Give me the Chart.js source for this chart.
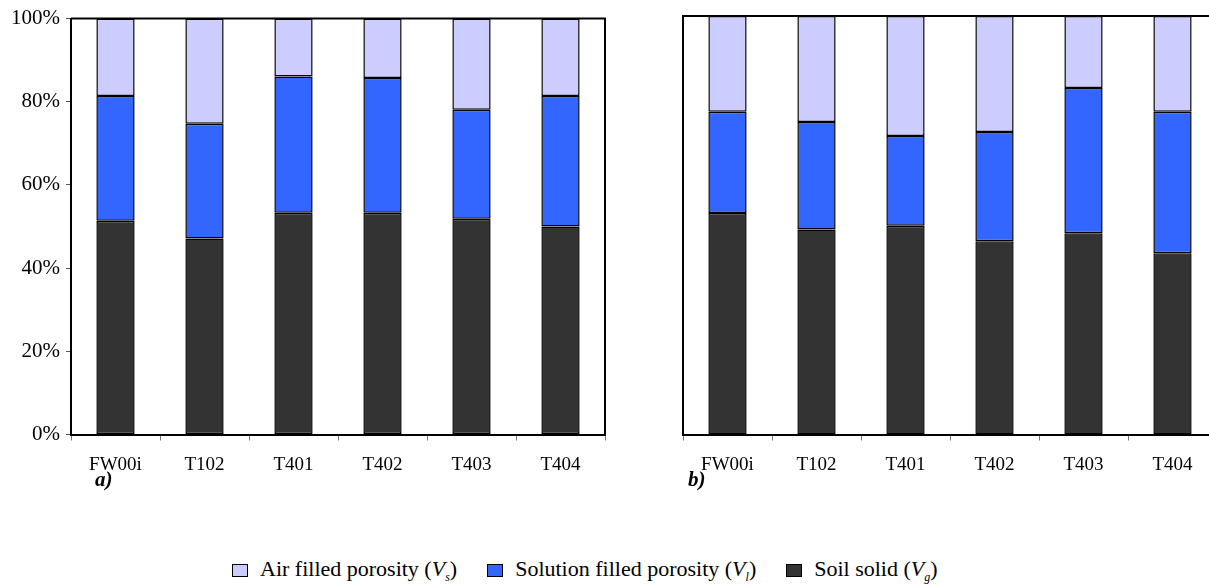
<!DOCTYPE html>
<html>
<head>
<meta charset="utf-8">
<script src="https://cdn.jsdelivr.net/npm/chart.js@4"></script>
<style>
  html, body { margin: 0; padding: 0; background: #fff; width: 1209px; height: 585px; overflow: hidden; }
  body { position: relative; font-family: 'Liberation Serif', 'Times New Roman', serif; color: #000; }
  .panel { position: absolute; top: 0; }
  .tag { position: absolute; top: 467px; font-size: 21px; font-weight: bold; font-style: italic; }
  #legend { position: absolute; left: 232px; top: 556px; display: flex; align-items: center; font-size: 22px; white-space: nowrap; }
  #legend .item { display: flex; align-items: center; margin-right: 30px; }
  #legend .box { width: 14px; height: 11px; border: 1px solid #000; margin-right: 12px; }
  #legend sub { font-size: 12px; font-style: italic; }
</style>
</head>
<body>
<div class="panel" style="left:0px; width:620px; height:480px;"><canvas id="chartA"></canvas></div>
<div class="panel" style="left:620px; width:620px; height:480px;"><canvas id="chartB"></canvas></div>
<div class="tag" style="left:95px;">a)</div>
<div class="tag" style="left:688px;">b)</div>
<div id="legend"></div>
<script>
// Sample names and tick labels
const categories = ['FW00i', 'T102', 'T401', 'T402', 'T403', 'T404'];
const yTicks = [0, 20, 40, 60, 80, 100];

// Panel a) volume fractions (%)
const soilA     = [51.4, 47.1, 53.3, 53.3, 51.9, 50.0];
const solutionA = [30.0, 27.6, 32.8, 32.4, 26.2, 31.4];
const airA      = [18.6, 25.3, 13.9, 14.3, 21.9, 18.6];

// Panel b) volume fractions (%)
const soilB     = [52.9, 49.0, 49.9, 46.2, 48.1, 43.3];
const solutionB = [24.2, 25.7, 21.4, 26.1, 34.7, 33.8];
const airB      = [22.9, 25.3, 28.7, 27.7, 17.2, 22.9];

// Series names (legend text + subscript)
const seriesNames = ['Soil solid', 'Solution filled porosity', 'Air filled porosity'];
const seriesSubs  = ['g', 'l', 's'];
const seriesColors = ['#333333', '#3366FF', '#CCCCFF'];

const FONT = "'Liberation Serif', 'Times New Roman', serif";

// Frame along the top (and optionally the right) of the plot area
const framePlugin = {
  id: 'frame',
  afterDraw(chart, args, opts) {
    const { ctx, chartArea: a } = chart;
    ctx.save();
    ctx.strokeStyle = '#000';
    ctx.lineWidth = 2;
    ctx.beginPath();
    ctx.moveTo(a.left, a.top);
    ctx.lineTo(a.right, a.top);
    if (opts.rightSide) ctx.lineTo(a.right, a.bottom);
    ctx.stroke();
    ctx.restore();
  }
};

function makeChart(id, series, opts) {
  const datasets = series.map((vals, i) => ({
    label: seriesNames[i],
    data: vals,
    backgroundColor: seriesColors[i],
    borderColor: '#000',
    borderWidth: 1.5,
    borderSkipped: false,
    barPercentage: 0.43,
    categoryPercentage: 1.0
  }));
  return new Chart(document.getElementById(id), {
    type: 'bar',
    data: { labels: categories, datasets },
    options: {
      responsive: true,
      maintainAspectRatio: false,
      animation: false,
      layout: { padding: { top: 16, right: opts.padRight, left: 0, bottom: 0 } },
      plugins: { legend: { display: false }, tooltip: { enabled: false }, frame: { rightSide: opts.rightSide } },
      scales: {
        x: {
          stacked: true,
          offset: true,
          grid: {
            display: true, offset: true, drawOnChartArea: false, drawTicks: true, tickLength: 6, lineWidth: 1,
            color: c => (!opts.rightSide && c.index === categories.length) ? 'rgba(0,0,0,0)' : '#777'
          },
          border: { display: true, color: '#000', width: 2 },
          ticks: { color: '#000', font: { family: FONT, size: 19 }, padding: 13, maxRotation: 0 },
          afterFit(scale) { scale.height = 45.5; }
        },
        y: {
          stacked: true,
          min: 0,
          max: 100,
          afterBuildTicks(scale) { scale.ticks = yTicks.map(v => ({ value: v })); },
          grid: { display: opts.yLabels, drawOnChartArea: false, drawTicks: opts.yLabels, tickLength: 5, color: '#555', lineWidth: 1 },
          border: { display: true, color: '#000', width: 2 },
          ticks: { display: opts.yLabels, color: '#000', font: { family: FONT, size: 21 }, padding: 6, callback: v => v + '%' },
          afterFit(scale) { scale.width = opts.yWidth; }
        }
      }
    },
    plugins: [framePlugin]
  });
}

makeChart('chartA', [soilA, solutionA, airA], { yLabels: true, yWidth: 71, padRight: 15, rightSide: true });
// panel b continues past the right edge of the page
makeChart('chartB', [soilB, solutionB, airB], { yLabels: false, yWidth: 63, padRight: 23, rightSide: false });

// Legend listing the top layer first
const legend = document.getElementById('legend');
for (let i = seriesNames.length - 1; i >= 0; i--) {
  const item = document.createElement('div');
  item.className = 'item';
  item.innerHTML = '<span class="box" style="background:' + seriesColors[i] + '"></span>' +
    '<span>' + seriesNames[i] + ' (<i>V</i><sub>' + seriesSubs[i] + '</sub>)</span>';
  legend.appendChild(item);
}
</script>
</body>
</html>
